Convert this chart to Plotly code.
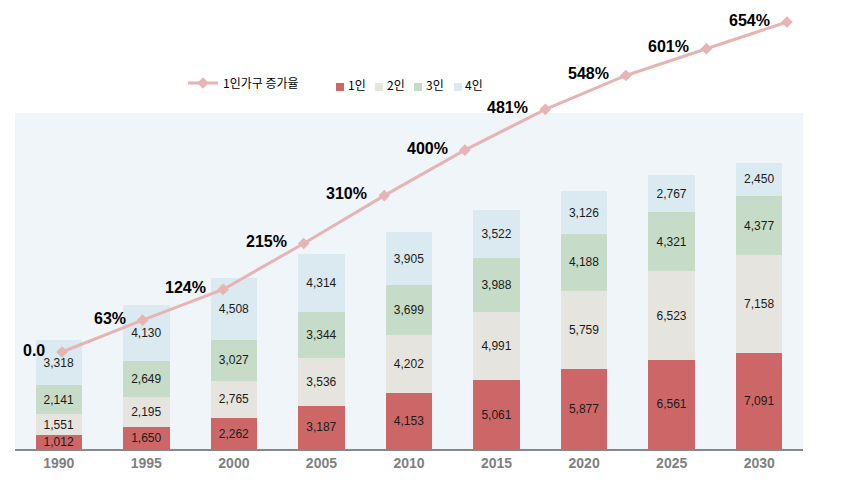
import plotly.graph_objects as go

years = ["1990", "1995", "2000", "2005", "2010", "2015", "2020", "2025", "2030"]
one_person = [1012, 1650, 2262, 3187, 4153, 5061, 5877, 6561, 7091]
two_person = [1551, 2195, 2765, 3536, 4202, 4991, 5759, 6523, 7158]
three_person = [2141, 2649, 3027, 3344, 3699, 3988, 4188, 4321, 4377]
four_person = [3318, 4130, 4508, 4314, 3905, 3522, 3126, 2767, 2450]

growth_rate = [0, 63, 124, 215, 310, 400, 481, 548, 601, 654]
growth_labels = ["0.0", "63%", "124%", "215%", "310%", "400%", "481%", "548%", "601%", "654%"]

series_names = ["1인", "2인", "3인", "4인"]
series_values = [one_person, two_person, three_person, four_person]
series_colors = ["#CD6767", "#E6E4DE", "#C6DCC8", "#DBEAF0"]

# figure geometry (pixels)
W, H = 841, 484
ML, MR, MT, MB = 15, 38, 0, 35
PW, PH = W - ML - MR, H - MT - MB


def px_to_paper(px, py):
    return (px - ML) / PW, (H - MB - py) / PH


fig = go.Figure()

line_x = list(range(len(growth_rate)))
fig.add_trace(go.Scatter(
    x=line_x, y=growth_rate,
    xaxis="x2", yaxis="y2",
    name="1인가구 증가율",
    mode="lines+markers",
    line=dict(color="#E6B4B4", width=3),
    marker=dict(symbol="diamond", size=9, color="#E6B4B4"),
    cliponaxis=False,
))

for name, vals, col in zip(series_names, series_values, series_colors):
    fig.add_trace(go.Bar(
        x=years, y=vals, name=name, showlegend=False,
        marker=dict(color=col, line=dict(width=0)),
        texttemplate="%{y:,}", textposition="inside", insidetextanchor="middle",
        textfont=dict(family="Liberation Sans", size=12, color="#1a1a1a"),
        constraintext="none",
    ))

annotations = []
for xv, yv, lab in zip(line_x, growth_rate, growth_labels):
    annotations.append(dict(
        x=xv, y=yv, xref="x2", yref="y2", text=lab, showarrow=False,
        xanchor="right", yanchor="middle", xshift=-15, yshift=2,
        font=dict(family="Liberation Sans", size=16, color="#000000", weight="bold"),
    ))

# custom legend entries for the bar series
shapes = [dict(type="rect", xref="x domain", yref="y domain", x0=0, x1=1, y0=0, y1=1,
               fillcolor="#EFF5F8", line=dict(width=0), layer="below")]
legend_square_px = [336, 375, 414, 454]
legend_text_px = [346, 385, 424, 463]
for name, col, sx, tx in zip(series_names, series_colors, legend_square_px, legend_text_px):
    x0, y0 = px_to_paper(sx, 91)
    x1, y1 = px_to_paper(sx + 8, 83)
    shapes.append(dict(type="rect", xref="paper", yref="paper", x0=x0, x1=x1, y0=y0, y1=y1,
                       fillcolor=col, line=dict(width=0)))
    txp, typ = px_to_paper(tx, 84)
    annotations.append(dict(
        x=txp, y=typ, xref="paper", yref="paper", text=name, showarrow=False,
        xanchor="left", yanchor="middle",
        font=dict(family="Noto Sans CJK KR", size=12, color="#000000"),
    ))

lx, ly = px_to_paper(183, 83)
fig.update_layout(
    width=W, height=H,
    margin=dict(l=ML, r=MR, t=MT, b=MB),
    barmode="stack", bargap=0.47,
    paper_bgcolor="white", plot_bgcolor="rgba(0,0,0,0)",
    showlegend=True,
    legend=dict(
        orientation="h", x=lx, xanchor="left", y=ly, yanchor="middle",
        font=dict(family="Noto Sans CJK KR", size=12, color="#000000"),
        bgcolor="rgba(0,0,0,0)", itemwidth=30,
    ),
    xaxis=dict(
        domain=[0, 1], type="category", range=[-0.5, 8.5],
        showline=True, linecolor="#888888", linewidth=2,
        showgrid=False, ticks="", zeroline=False,
        tickfont=dict(family="Liberation Sans", size=14, color="#7F7F7F", weight="bold"),
        anchor="y",
    ),
    yaxis=dict(domain=[0, 0.7483], range=[0, 24724], visible=False, showgrid=False),
    xaxis2=dict(domain=[0, 1], range=[-0.584, 9.199], visible=False, anchor="y2", showgrid=False),
    yaxis2=dict(domain=[0, 1], range=[-192.2, 697.6], visible=False, anchor="x2", showgrid=False),
    shapes=shapes,
    annotations=annotations,
)

fig.write_html("out.html")
